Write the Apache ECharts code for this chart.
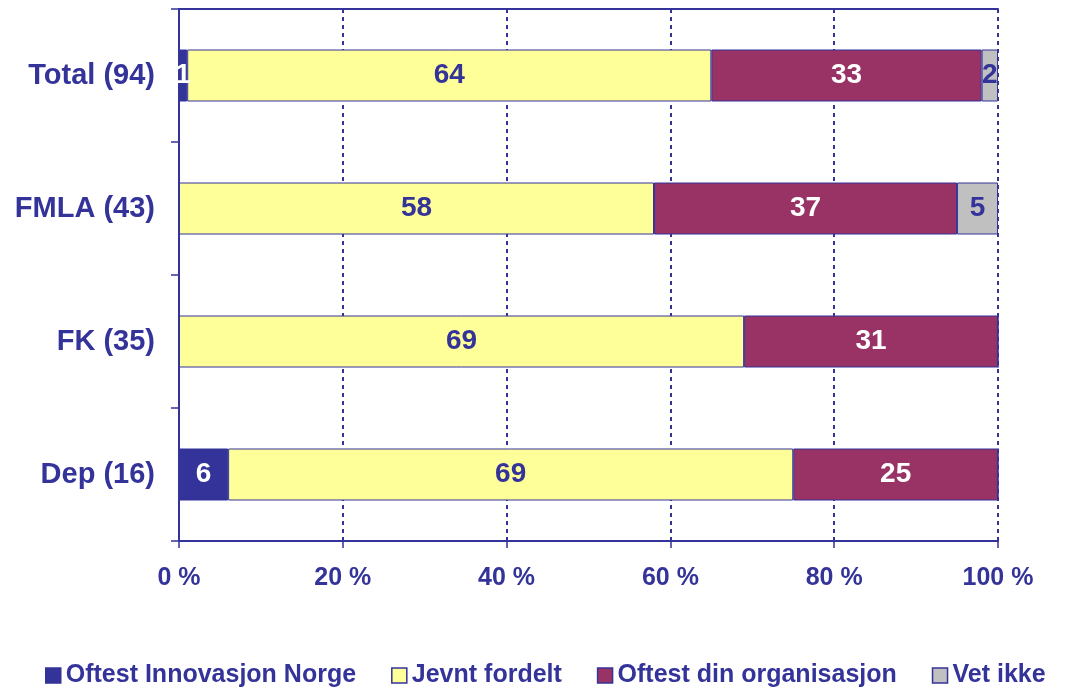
<!DOCTYPE html>
<html>
<head>
<meta charset="utf-8">
<script src="https://cdn.jsdelivr.net/npm/echarts@6/dist/echarts.min.js"></script>
<style>
  html, body { margin: 0; padding: 0; background: #fff; }
  #chart { width: 1072px; height: 687px; }
</style>
</head>
<body>
<div id="chart"></div>
<script>
// categories top to bottom
const categories = ["Total (94)", "FMLA (43)", "FK (35)", "Dep (16)"];
const innovasjonNorge = [1, 0, 0, 6];
const jevntFordelt = [64, 58, 69, 69];
const dinOrganisasjon = [33, 37, 31, 25];
const vetIkke = [2, 5, 0, 0];
const xTicks = [0, 20, 40, 60, 80, 100];

const navy = "#333399";
const font = "Liberation Sans, Arial, sans-serif";

function seg(name, data, color, labelColor) {
  return {
    name: name,
    type: "bar",
    stack: "total",
    barWidth: 52,
    data: data,
    itemStyle: { color: color, borderColor: navy, borderWidth: 1 },
    label: {
      show: true,
      position: "inside",
      color: labelColor,
      fontFamily: font,
      fontWeight: "bold",
      fontSize: 28,
      formatter: function (p) { return p.value ? String(p.value) : ""; },
    },
    emphasis: { disabled: true },
  };
}

const chart = echarts.init(document.getElementById("chart"), null, { renderer: "canvas" });
chart.setOption({
  animation: false,
  backgroundColor: "#fff",
  grid: { left: 179, right: 74, top: 9, bottom: 146, containLabel: false },
  legend: {
    left: 40,
    top: 658,
    itemWidth: 15,
    itemHeight: 15,
    itemGap: 35,
    icon: "rect",
    itemStyle: { borderColor: navy, borderWidth: 1.5 },
    textStyle: { color: navy, fontFamily: font, fontWeight: "bold", fontSize: 25 },
    data: ["Oftest Innovasjon Norge", "Jevnt fordelt", "Oftest din organisasjon", "Vet ikke"],
  },
  xAxis: [
    {
      type: "value",
      min: 0,
      max: 100,
      interval: 20,
      position: "bottom",
      axisLine: { show: true, lineStyle: { color: navy, width: 2 } },
      axisTick: { show: true, length: 7, lineStyle: { color: navy, width: 1.5 } },
      axisLabel: {
        color: navy,
        fontFamily: font,
        fontWeight: "bold",
        fontSize: 25,
        margin: 25,
        formatter: function (v) { return xTicks.indexOf(v) >= 0 ? v + " %" : ""; },
      },
      splitLine: { show: true, lineStyle: { color: navy, width: 2, type: [4, 4] } },
    },
    {
      type: "value",
      min: 0,
      max: 100,
      position: "top",
      axisLine: { show: true, lineStyle: { color: navy, width: 2 } },
      axisTick: { show: false },
      axisLabel: { show: false },
      splitLine: { show: false },
    },
  ],
  yAxis: {
    type: "category",
    inverse: true,
    data: categories,
    axisLine: { show: true, lineStyle: { color: navy, width: 2 } },
    axisTick: { show: true, length: 8, lineStyle: { color: navy, width: 1.5 } },
    axisLabel: {
      color: navy,
      fontFamily: font,
      fontWeight: "bold",
      fontSize: 29,
      margin: 24,
    },
  },
  series: [
    seg("Oftest Innovasjon Norge", innovasjonNorge, "#333399", "#ffffff"),
    seg("Jevnt fordelt", jevntFordelt, "#ffff99", navy),
    seg("Oftest din organisasjon", dinOrganisasjon, "#993366", "#ffffff"),
    seg("Vet ikke", vetIkke, "#c0c0c0", navy),
  ],
});
</script>
</body>
</html>
